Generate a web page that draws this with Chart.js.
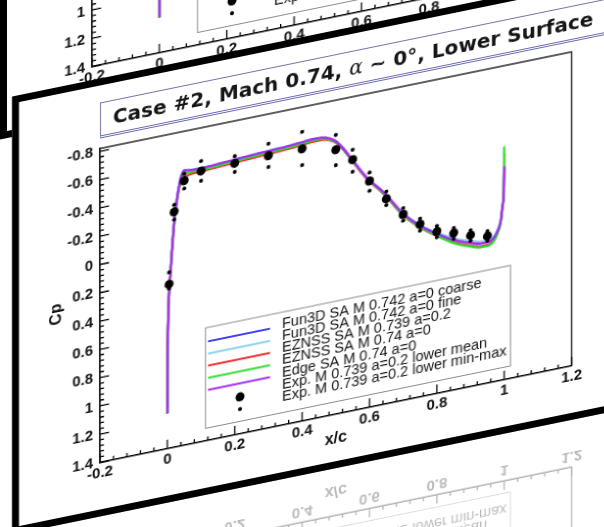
<!DOCTYPE html>
<html>
<head>
<meta charset="utf-8">
<script src="https://cdn.jsdelivr.net/npm/chart.js@4.4.1/dist/chart.umd.min.js"></script>
<style>
  html, body { margin: 0; padding: 0; background: #fff; }
  #stage { position: relative; width: 604px; height: 527px; overflow: hidden; background: #fff; }
  /* the whole slide deck is sheared, like a slide seen at an angle */
  #sheet { position: absolute; left: 0; top: 0; width: 900px; height: 1200px;
           transform: skewY(-11.58deg); transform-origin: 0 0; }
  .group { position: absolute; left: 0; top: 0; width: 900px; height: 1200px; }
  .frame { position: absolute; box-sizing: border-box; border: 7px solid #000; background: #fff; }
  .title { position: absolute; box-sizing: border-box; background: #fff; white-space: nowrap;
           border: 1px solid #7474a8; border-bottom: 3px double #6a6ab0;
           font: bold 20px "DejaVu Sans", Verdana, sans-serif; color: #151515;
           padding-left: 12px; line-height: 33px; }
  .title .al { font-family: "DejaVu Serif", serif; font-style: italic; font-weight: normal; }
  canvas { position: absolute; }
</style>
</head>
<body>
<div id="stage"><div id="sheet"></div></div>
<script>
// axes
const xTicks = [-0.2, 0, 0.2, 0.4, 0.6, 0.8, 1, 1.2];
const yTicks = [-0.8, -0.6, -0.4, -0.2, 0, 0.2, 0.4, 0.6, 0.8, 1, 1.2, 1.4];

// CFD curves, lower surface
const lineX = [0, 0.0005, 0.002, 0.005, 0.01, 0.015, 0.02, 0.03, 0.04, 0.05, 0.06, 0.08, 0.1, 0.15,
  0.2, 0.25, 0.3, 0.35, 0.4, 0.43, 0.46, 0.48, 0.5, 0.52, 0.55, 0.58, 0.6, 0.63, 0.65, 0.7, 0.75,
  0.8, 0.85, 0.9, 0.93, 0.95, 0.97, 0.98, 0.99, 0.995, 0.999, 1.0];
const fun3dCoarse = [1.15, 0.80, 0.52, 0.30, 0.13, -0.04, -0.19, -0.38, -0.50, -0.54, -0.537, -0.532,
  -0.532, -0.537, -0.544, -0.55, -0.557, -0.56, -0.569, -0.575, -0.572, -0.557, -0.527, -0.47, -0.366,
  -0.262, -0.2, -0.127, -0.072, 0.082, 0.19, 0.268, 0.336, 0.38, 0.398, 0.398, 0.374, 0.334, 0.264,
  0.165, 0.055, -0.1];
const fun3dFine = [1.15, 0.80, 0.52, 0.30, 0.13, -0.04, -0.19, -0.38, -0.50, -0.542, -0.538, -0.533,
  -0.533, -0.538, -0.545, -0.551, -0.558, -0.561, -0.57, -0.576, -0.573, -0.558, -0.528, -0.472, -0.368,
  -0.263, -0.202, -0.128, -0.073, 0.08, 0.186, 0.264, 0.33, 0.372, 0.39, 0.392, 0.37, 0.33, 0.262,
  0.165, 0.055, -0.1];
const eznssA02 = [1.15, 0.80, 0.52, 0.30, 0.13, -0.03, -0.18, -0.36, -0.47, -0.50, -0.505, -0.51,
  -0.512, -0.518, -0.525, -0.532, -0.538, -0.543, -0.552, -0.56, -0.56, -0.548, -0.52, -0.468, -0.365,
  -0.26, -0.198, -0.122, -0.065, 0.092, 0.2, 0.285, 0.355, 0.405, 0.425, 0.425, 0.4, 0.355, 0.28,
  0.17, 0.05, -0.2];
const eznssA0 = [1.15, 0.80, 0.52, 0.30, 0.13, -0.035, -0.185, -0.37, -0.485, -0.52, -0.522, -0.522,
  -0.523, -0.528, -0.535, -0.541, -0.548, -0.552, -0.562, -0.568, -0.566, -0.552, -0.524, -0.47, -0.366,
  -0.262, -0.2, -0.124, -0.068, 0.09, 0.198, 0.282, 0.36, 0.41, 0.43, 0.43, 0.405, 0.36, 0.28,
  0.17, 0.04, -0.25];
const edge = [1.15, 0.80, 0.52, 0.30, 0.13, -0.04, -0.19, -0.38, -0.50, -0.545, -0.54, -0.535,
  -0.535, -0.54, -0.547, -0.553, -0.56, -0.563, -0.572, -0.578, -0.575, -0.56, -0.53, -0.475, -0.37,
  -0.265, -0.205, -0.13, -0.075, 0.08, 0.19, 0.27, 0.34, 0.385, 0.405, 0.405, 0.38, 0.34, 0.27,
  0.17, 0.06, -0.11];

// wind tunnel, mean and min/max per tap
const expX    = [0.005, 0.02, 0.05, 0.1, 0.2, 0.3, 0.4, 0.5, 0.55, 0.6, 0.65, 0.7, 0.75, 0.8, 0.85, 0.9, 0.95];
const expMean = [0.24, -0.265, -0.47, -0.515, -0.52, -0.525, -0.525, -0.47, -0.375, -0.2, -0.05,
  0.085, 0.18, 0.255, 0.29, 0.33, 0.36];
const expMin  = [0.155, -0.315, -0.52, -0.585, -0.57, -0.61, -0.645, -0.575, -0.445, -0.26, -0.1,
  0.04, 0.14, 0.215, 0.255, 0.295, 0.325];
const expMax  = [0.27, -0.21, -0.415, -0.445, -0.46, -0.445, -0.41, -0.36, -0.29, -0.13, -0.005,
  0.13, 0.225, 0.295, 0.33, 0.37, 0.395];

const curves = [
  { label: 'Fun3D SA M 0.742 a=0 coarse', values: fun3dCoarse, color: '#4141f2', order: 4 },
  { label: 'Fun3D SA M 0.742 a=0 fine',   values: fun3dFine,   color: '#86d3ee', order: 3 },
  { label: 'EZNSS SA M 0.739 a=0.2',      values: eznssA02,    color: '#ee2b2b', order: 2 },
  { label: 'EZNSS SA M 0.74 a=0',         values: eznssA0,     color: '#30dd30', order: 1 },
  { label: 'Edge SA M 0.74 a=0',          values: edge,        color: '#a32cf2', order: 0 }
];

const FONT = '"Liberation Sans", Arial, sans-serif';
const fmt = v => String(Math.round(v * 10) / 10);

// frame on top/right and Tecplot-style inward ticks with minor subdivisions
const frameTicks = {
  id: 'frameTicks',
  afterDatasetsDraw(chart) {
    const { ctx, chartArea: a, scales: { x, y } } = chart;
    ctx.save();
    ctx.strokeStyle = '#2a2a2a';
    ctx.lineWidth = 1.4;
    ctx.beginPath();
    ctx.moveTo(a.left, a.top); ctx.lineTo(a.right, a.top); ctx.lineTo(a.right, a.bottom);
    ctx.stroke();
    ctx.strokeStyle = '#000';
    ctx.lineWidth = 1.3;
    ctx.beginPath();
    for (let i = 0; i < xTicks.length; i++) {
      const px = x.getPixelForValue(xTicks[i]);
      ctx.moveTo(px, a.bottom); ctx.lineTo(px, a.bottom - 9);
      if (i < xTicks.length - 1) {
        for (let k = 1; k < 5; k++) {
          const m = x.getPixelForValue(xTicks[i] + (xTicks[i + 1] - xTicks[i]) * k / 5);
          ctx.moveTo(m, a.bottom); ctx.lineTo(m, a.bottom - 4);
        }
      }
    }
    for (let i = 0; i < yTicks.length; i++) {
      const py = y.getPixelForValue(yTicks[i]);
      ctx.moveTo(a.left, py); ctx.lineTo(a.left + 9, py);
      if (i < yTicks.length - 1) {
        for (let k = 1; k < 5; k++) {
          const m = y.getPixelForValue(yTicks[i] + (yTicks[i + 1] - yTicks[i]) * k / 5);
          ctx.moveTo(a.left, m); ctx.lineTo(a.left + 4, m);
        }
      }
    }
    ctx.stroke();
    ctx.restore();
  }
};

// legend box sitting inside the plot
const boxLegend = {
  id: 'boxLegend',
  afterDraw(chart, args, opts) {
    const { ctx, chartArea: a } = chart;
    const bx = a.left + opts.left, by = a.top + opts.top;
    ctx.save();
    ctx.fillStyle = '#fff';
    ctx.fillRect(bx, by, opts.width, opts.height);
    ctx.strokeStyle = '#8c8c8c';
    ctx.lineWidth = 1;
    ctx.strokeRect(bx + 0.5, by + 0.5, opts.width, opts.height);
    ctx.font = '14.5px ' + FONT;
    ctx.textBaseline = 'middle';
    chart.data.datasets.forEach((ds, i) => {
      const ry = by + 14.6 + 12.1 * i;
      if (ds.showLine === false) {
        ctx.fillStyle = '#000';
        ctx.beginPath();
        ctx.arc(bx + 35, ry + 1.5, ds.pointRadius, 0, Math.PI * 2);
        ctx.fill();
      } else {
        ctx.strokeStyle = ds.borderColor;
        ctx.lineWidth = 2;
        ctx.beginPath();
        ctx.moveTo(bx + 3, ry); ctx.lineTo(bx + 65, ry);
        ctx.stroke();
      }
      ctx.fillStyle = '#141414';
      ctx.fillText(ds.label, bx + 77, ry - 2);
    });
    ctx.restore();
  }
};

function makeConfig() {
  const datasets = curves.map(c => ({
    label: c.label,
    data: lineX.map((x, i) => ({ x, y: c.values[i] })),
    borderColor: c.color,
    borderWidth: 2.3,
    pointRadius: 0,
    cubicInterpolationMode: 'monotone',
    order: c.order
  }));
  datasets.push({
    label: 'Exp. M 0.739 a=0.2 lower mean',
    data: expX.map((x, i) => ({ x, y: expMean[i] })),
    showLine: false, pointRadius: 4.5, pointBackgroundColor: '#000', pointBorderWidth: 0, order: -2
  });
  datasets.push({
    label: 'Exp. M 0.739 a=0.2 lower min-max',
    data: expX.flatMap((x, i) => [{ x, y: expMin[i] }, { x, y: expMax[i] }]),
    showLine: false, pointRadius: 2, pointBackgroundColor: '#000', pointBorderWidth: 0, order: -1
  });

  const tickFont = { family: FONT, size: 15, weight: 'bold' };
  return {
    type: 'line',
    data: { datasets },
    plugins: [frameTicks, boxLegend],
    options: {
      responsive: false,
      animation: false,
      devicePixelRatio: 1,
      layout: { padding: { top: 8, right: 10, left: 0, bottom: 0 } },
      plugins: {
        legend: { display: false },
        tooltip: { enabled: false },
        boxLegend: { left: 105, top: 200.5, width: 305, height: 100.5 }
      },
      scales: {
        x: {
          type: 'linear', min: -0.2, max: 1.2,
          afterBuildTicks: s => { s.ticks = xTicks.map(v => ({ value: v })); },
          afterFit: s => { s.height = 48; },
          ticks: { font: tickFont, color: '#111', padding: 2, maxRotation: 0, autoSkip: false, callback: fmt },
          grid: { display: false, drawTicks: false },
          border: { display: true, color: '#000', width: 1.6 },
          title: { display: true, text: 'x/c', color: '#111',
                   font: { family: FONT, size: 16, weight: 'bold' }, padding: { top: 0, bottom: 14 } }
        },
        y: {
          type: 'linear', reverse: true, min: -0.82, max: 1.4,
          afterBuildTicks: s => { s.ticks = yTicks.map(v => ({ value: v })); },
          afterFit: s => { s.width = 70; },
          ticks: { font: tickFont, color: '#111', padding: 7, autoSkip: false, callback: fmt },
          grid: { display: false, drawTicks: false },
          border: { display: true, color: '#000', width: 1.6 },
          title: { display: true, text: 'Cp', color: '#111',
                   font: { family: FONT, size: 16, weight: 'bold' }, padding: { top: 17, bottom: 0 } }
        }
      }
    }
  };
}

// one slide: black frame, optional title banner, chart canvas
function makeSlide(style, withTitle, frameLeft) {
  const g = document.createElement('div');
  g.className = 'group';
  Object.assign(g.style, style);
  const frame = document.createElement('div');
  frame.className = 'frame';
  Object.assign(frame.style, { left: frameLeft + 'px', top: '99px', width: '900px', height: '438px' });
  g.appendChild(frame);
  if (withTitle) {
    const t = document.createElement('div');
    t.className = 'title';
    Object.assign(t.style, { left: '100px', top: '123px', width: '560px', height: '36px' });
    t.innerHTML = 'Case #2, Mach 0.74, <span class="al">α</span> ~ 0°, Lower Surface';
    g.appendChild(t);
  }
  const c = document.createElement('canvas');
  c.width = 554; c.height = 378;
  Object.assign(c.style, { left: '30px', top: '152.5px', width: '554px', height: '378px' });
  g.appendChild(c);
  document.getElementById('sheet').appendChild(g);
  new Chart(c, makeConfig());
}

makeSlide({ transform: 'translate(-8px, -397.5px)' }, false, 8);                         // previous slide
makeSlide({ transform: 'scaleY(-1)', transformOrigin: '0 533.5px', opacity: '0.3' }, true, 12); // mirror
makeSlide({}, true, 12);                                                                   // current slide
</script>
</body>
</html>
